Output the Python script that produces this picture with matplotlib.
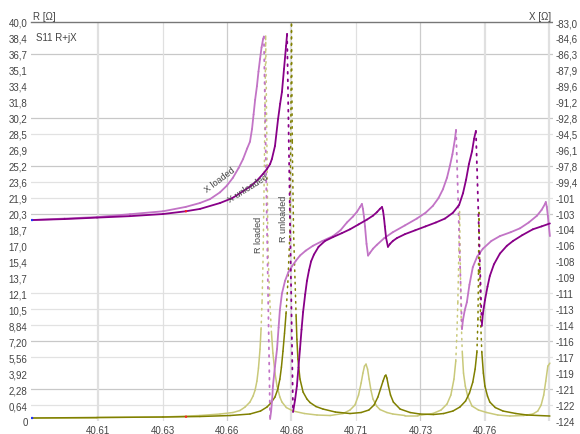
"""
S11 R+jX 图 - 加载/未加载 对比
"""

import numpy as np
import matplotlib
matplotlib.use('Agg')
import matplotlib.pyplot as plt
from matplotlib.collections import LineCollection

plt.rcParams['font.family'] = ['Liberation Sans', 'DejaVu Sans']

# ---- 数据 ----
r_loaded_f = [40.5844, 40.6096, 40.6352, 40.6495, 40.6573, 40.6623, 40.6650, 40.6670,
              40.6689, 40.6701, 40.6709, 40.6716, 40.6722, 40.6728, 40.6732, 40.6736,
              40.6740, 40.6745, 40.6750, 40.6755, 40.6759, 40.6763, 40.6767, 40.6772,
              40.6778, 40.6786, 40.6794, 40.6805, 40.6813, 40.6830, 40.6856, 40.6900,
              40.6949, 40.7000, 40.7050, 40.7077, 40.7096, 40.7110, 40.7120, 40.7127,
              40.7133, 40.7139, 40.7145, 40.7151, 40.7158, 40.7166, 40.7180, 40.7193,
              40.7220, 40.7243, 40.7290, 40.7340, 40.7398, 40.7430, 40.7453, 40.7468,
              40.7480, 40.7487, 40.7491, 40.7495, 40.7499, 40.7502, 40.7505, 40.7508,
              40.7512, 40.7517, 40.7524, 40.7533, 40.7550, 40.7575, 40.7607, 40.7650,
              40.7697, 40.7750, 40.7786, 40.7805, 40.7818, 40.7828, 40.7836, 40.7844,
              40.7852]
r_loaded = [0.35, 0.35, 0.40, 0.55, 0.70, 0.85, 1.05, 1.4,
            1.9, 2.5, 3.1, 4.0, 5.3, 7.2, 9.2, 12.0,
            16.5, 26.0, 38.6, 27.0, 17.2, 14.0, 11.5, 9.0,
            6.8, 4.8, 3.5, 2.4, 1.9, 1.35, 1.0, 0.75,
            0.6, 0.55, 0.75, 1.1, 1.6, 2.6, 3.8, 4.8,
            5.5, 5.7, 5.2, 4.2, 3.1, 2.2, 1.5, 1.15,
            0.85, 0.7, 0.55, 0.55, 0.75, 1.1, 1.7, 2.6,
            4.2, 6.0, 8.5, 11.9, 17.2, 21.0, 15.0, 10.2,
            7.0, 4.8, 3.5, 2.5, 1.5, 1.1, 0.85, 0.6,
            0.5, 0.55, 0.7, 1.0, 1.6, 2.6, 4.0, 5.5,
            5.8]

r_unloaded_f = [40.5844, 40.6096, 40.6352, 40.6495, 40.6612, 40.6689, 40.6730, 40.6755,
                40.6770, 40.6786, 40.6797, 40.6805, 40.6811, 40.6817, 40.6823, 40.6829,
                40.6836, 40.6844, 40.6847, 40.6850, 40.6853, 40.6858, 40.6864, 40.6868,
                40.6871, 40.6875, 40.6883, 40.6895, 40.6910, 40.6922, 40.6945, 40.6972,
                40.7020, 40.7077, 40.7120, 40.7150, 40.7170, 40.7185, 40.7195, 40.7205,
                40.7212, 40.7216, 40.7220, 40.7226, 40.7234, 40.7245, 40.7271, 40.7310,
                40.7348, 40.7400, 40.7440, 40.7476, 40.7503, 40.7525, 40.7540, 40.7553,
                40.7562, 40.7569, 40.7573, 40.7575, 40.7577, 40.7580, 40.7583, 40.7588,
                40.7594, 40.7600, 40.7610, 40.7619, 40.7640, 40.7670, 40.7720, 40.7763,
                40.7852]
r_unloaded = [0.30, 0.35, 0.40, 0.45, 0.55, 0.70, 1.0, 1.4,
              1.8, 2.4, 3.2, 4.2, 5.4, 7.0, 8.8, 10.8,
              13.9, 19.0, 28.0, 39.8, 28.0, 19.0, 13.9, 10.5,
              8.2, 6.2, 4.2, 2.9, 2.2, 1.85, 1.45, 1.2,
              0.9, 0.75, 0.85, 1.1, 1.6, 2.4, 3.2, 4.0,
              4.5, 4.6, 4.3, 3.5, 2.6, 1.9, 1.2, 0.85,
              0.7, 0.65, 0.75, 1.0, 1.4, 2.0, 2.8, 3.9,
              5.2, 6.9, 10.2, 15.0, 20.9, 15.0, 10.2, 6.9,
              4.8, 3.5, 2.5, 1.9, 1.35, 1.0, 0.75, 0.6,
              0.5]

x_loaded_f = [40.5844, 40.5970, 40.6096, 40.6224, 40.6352, 40.6440, 40.6495, 40.6534,
              40.6573, 40.6600, 40.6623, 40.6645, 40.6662, 40.6678, 40.6689, 40.6697,
              40.6703, 40.6709, 40.6716, 40.6722, 40.6728, 40.6734, 40.6740, 40.6743,
              40.6767, 40.6771, 40.6775, 40.6778, 40.6786, 40.6794, 40.6800, 40.6805,
              40.6813, 40.6825, 40.6838, 40.6852, 40.6868, 40.6883, 40.6905, 40.6933,
              40.6970, 40.7011, 40.7040, 40.7065, 40.7088, 40.7104, 40.7116, 40.7123,
              40.7127, 40.7131, 40.7135, 40.7141, 40.7147, 40.7155, 40.7166, 40.7181,
              40.7210, 40.7243, 40.7290, 40.7336, 40.7370, 40.7398, 40.7420, 40.7437,
              40.7453, 40.7464, 40.7474, 40.7484, 40.7488, 40.7511, 40.7515, 40.7522,
              40.7530, 40.7540, 40.7553, 40.7570, 40.7592, 40.7625, 40.7658, 40.7700,
              40.7736, 40.7770, 40.7802, 40.7820, 40.7833, 40.7836, 40.7840, 40.7844,
              40.7848, 40.7852]
x_loaded = [-103.35, -103.2, -103.04, -102.75, -102.45, -102.0, -101.6, -101.2,
            -100.5, -99.8, -99.0, -98.0, -97.1, -96.0, -95.3, -94.0,
            -92.5, -91.0, -89.6, -88.1, -86.8, -85.6, -84.75, -84.5,
            -123.8, -123.0, -121.8, -120.4, -118.4, -116.6, -114.4, -112.6,
            -110.9, -109.6, -108.7, -108.1, -107.5, -107.0, -106.5, -106.0,
            -105.5, -105.0, -104.4, -103.6, -103.0, -102.5, -102.0, -101.7,
            -102.2, -103.0, -104.0, -105.8, -107.0, -106.7, -106.3, -105.9,
            -105.2, -104.6, -103.9, -103.2, -102.6, -101.9, -101.1, -100.2,
            -99.0, -97.8, -96.6, -95.0, -94.1, -114.55, -113.6, -112.6,
            -111.8, -110.0, -108.2, -107.1, -106.3, -105.5, -105.0, -104.6,
            -104.2, -103.6, -102.9, -102.3, -101.7, -101.5, -102.0, -102.9,
            -104.0, -105.0]

x_unloaded_f = [40.5844, 40.5970, 40.6096, 40.6224, 40.6352, 40.6440, 40.6495, 40.6573,
                40.6620, 40.6650, 40.6690, 40.6716, 40.6740, 40.6755, 40.6767, 40.6774,
                40.6786, 40.6798, 40.6806, 40.6813, 40.6821, 40.6829, 40.6833, 40.6856,
                40.6864, 40.6871, 40.6877, 40.6883, 40.6889, 40.6895, 40.6903, 40.6910,
                40.6918, 40.6926, 40.6937, 40.6955, 40.6980, 40.7011, 40.7045, 40.7077,
                40.7110, 40.7143, 40.7166, 40.7181, 40.7193, 40.7201, 40.7205, 40.7209,
                40.7212, 40.7217, 40.7224, 40.7232, 40.7243, 40.7259, 40.7290, 40.7330,
                40.7370, 40.7410, 40.7445, 40.7476, 40.7500, 40.7515, 40.7527, 40.7538,
                40.7550, 40.7558, 40.7565, 40.7588, 40.7592, 40.7600, 40.7610, 40.7619,
                40.7635, 40.7658, 40.7685, 40.7709, 40.7745, 40.7786, 40.7820, 40.7852]
x_unloaded = [-103.35, -103.25, -103.1, -102.95, -102.73, -102.45, -102.21, -101.6,
              -101.1, -100.6, -99.9, -99.3, -98.6, -98.1, -97.6, -97.08,
              -95.74, -92.97, -91.4, -90.19, -87.83, -85.46, -84.23, -123.08,
              -121.8, -120.4, -118.5, -116.6, -114.6, -112.8, -111.0, -109.6,
              -108.5, -107.6, -106.9, -106.1, -105.5, -105.1, -104.7, -104.3,
              -103.8, -103.3, -102.9, -102.55, -102.2, -102.01, -102.4, -103.2,
              -104.0, -105.2, -106.1, -105.8, -105.5, -105.2, -104.8, -104.4,
              -104.0, -103.6, -103.2, -102.6, -101.8, -100.6, -99.2, -97.6,
              -96.3, -95.0, -94.2, -114.24, -113.0, -111.6, -110.2, -109.1,
              -107.9, -106.8, -106.0, -105.5, -104.9, -104.3, -104.0, -103.7]

freq_ticks = [40.61, 40.635, 40.66, 40.685, 40.71, 40.735, 40.76]
freq_tick_labels = ['40,61', '40,63', '40,66', '40,68', '40,71', '40,73', '40,76']
freq_grid = freq_ticks + [40.785]

r_tick_labels = ['0', '0,64', '2,28', '3,92', '5,56', '7,20', '8,84', '10,5', '12,1',
                 '13,7', '15,4', '17,0', '18,7', '20,3', '21,9', '23,6', '25,2', '26,9',
                 '28,5', '30,2', '31,8', '33,4', '35,1', '36,7', '38,4', '40,0']
x_tick_labels = ['-124', '-122', '-121', '-119', '-117', '-116', '-114', '-113', '-111',
                 '-109', '-108', '-106', '-104', '-103', '-101', '-99,4', '-97,8', '-96,1',
                 '-94,5', '-92,8', '-91,2', '-89,6', '-87,9', '-86,3', '-84,6', '-83,0']

# 哪些刻度有横向网格线 (从下往上的序号)
grid_rows_dark = [2, 5, 13, 16, 19, 23]
grid_rows_light = [1, 4, 6, 7, 8, 14, 15, 18]

marker_freqs = [40.5844, 40.6441]
marker_colors = ['#2030ff', '#ff2020']

C_R_LOADED = '#c9c97a'
C_R_UNLOADED = '#808000'
C_X_LOADED = '#c274c6'
C_X_UNLOADED = '#880088'
TXT = '#444444'


def draw_trace(axis, f, v, color, span, steep, lw=1.1):
    """陡峭段(稀疏点)画成点线, 其余实线"""
    f = np.asarray(f)
    v = np.asarray(v)
    pts = np.column_stack([f, v])
    segs = np.stack([pts[:-1], pts[1:]], axis=1)
    jump = np.abs(np.diff(v)) / span > steep
    styles = [(0, (1, 3.2)) if j else 'solid' for j in jump]
    lc = LineCollection(segs, colors=color, linewidths=lw, linestyles=styles,
                        capstyle='round', joinstyle='round')
    axis.add_collection(lc)


fig = plt.figure(figsize=(5.8, 4.35), dpi=100)
ax = fig.add_axes([31 / 580, 13 / 435, 522 / 580, 399 / 435])
ax2 = ax.twinx()

ax.set_xlim(40.5840, 40.7864)
ax.set_ylim(0, 40)
ax2.set_ylim(-124, -83)

r_ticks = np.linspace(0, 40, len(r_tick_labels))
x_ticks = np.linspace(-124, -83, len(x_tick_labels))

# 网格
for i in grid_rows_dark:
    ax.axhline(r_ticks[i], color='#c8c8c8', lw=0.9, zorder=0)
for i in grid_rows_light:
    ax.axhline(r_ticks[i], color='#e2e2e2', lw=0.9, zorder=0)
for k, f in enumerate(freq_grid):
    c = '#cccccc' if k in (2, 5) else '#e0e0e0'
    w = 0.9 if k in (1, 2, 4, 5) else 1.6
    ax.axvline(f, color=c, lw=w, zorder=0)

# 曲线
draw_trace(ax, r_loaded_f, r_loaded, C_R_LOADED, 40, 0.06)
draw_trace(ax, r_unloaded_f, r_unloaded, C_R_UNLOADED, 40, 0.06)
draw_trace(ax2, x_loaded_f, x_loaded, C_X_LOADED, 41, 0.3, lw=1.3)
draw_trace(ax2, x_unloaded_f, x_unloaded, C_X_UNLOADED, 41, 0.3, lw=1.3)

# 标记点
mr = np.interp(marker_freqs, r_unloaded_f, r_unloaded)
mx = np.interp(marker_freqs, x_unloaded_f, x_unloaded)
ax.scatter(marker_freqs, mr, s=3, c=marker_colors, zorder=5, linewidths=0)
ax2.scatter(marker_freqs, mx, s=3, c=marker_colors, zorder=5, linewidths=0)

# 曲线标签
ax2.text(40.6572, -99.2, 'X loaded', fontsize=6.5, color=TXT, rotation=37,
         ha='center', va='center')
ax2.text(40.6680, -100.0, 'X unloaded', fontsize=6.5, color=TXT, rotation=32,
         ha='center', va='center')
ax.text(40.6722, 18.8, 'R loaded', fontsize=6.5, color=TXT, rotation=90,
        ha='center', va='center')
ax.text(40.6819, 20.4, 'R unloaded', fontsize=6.5, color=TXT, rotation=90,
        ha='center', va='center')

# 坐标轴
ax.set_xticks(freq_ticks)
ax.set_xticklabels(freq_tick_labels)
ax.set_yticks(r_ticks)
ax.set_yticklabels(r_tick_labels)
ax2.set_yticks(x_ticks)
ax2.set_yticklabels(x_tick_labels)

ax.tick_params(axis='both', length=0, labelsize=7, colors=TXT, pad=2.5)
ax2.tick_params(axis='y', length=0, labelsize=7, colors=TXT, pad=2)

for a in (ax, ax2):
    for s in a.spines.values():
        s.set_visible(False)
ax.spines['top'].set_visible(True)
ax.spines['top'].set_color('#777777')
ax.spines['top'].set_linestyle((0, (1, 1)))
ax.spines['top'].set_linewidth(1.0)

fig.text(33 / 580, 1 - 17 / 435, 'R [Ω]', fontsize=7, color=TXT, va='center', ha='left')
fig.text(551 / 580, 1 - 17 / 435, 'X [Ω]', fontsize=7, color=TXT, va='center', ha='right')
ax.text(0.01, 0.975, 'S11 R+jX', transform=ax.transAxes, fontsize=7, color=TXT,
        va='top', ha='left')

fig.savefig('out.png', dpi=100)
